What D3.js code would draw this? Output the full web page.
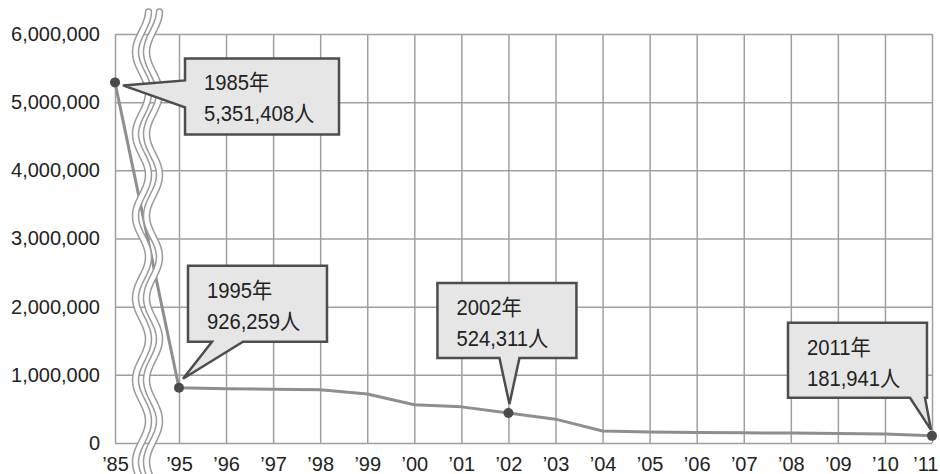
<!DOCTYPE html>
<html>
<head>
<meta charset="utf-8">
<script src="https://cdn.jsdelivr.net/npm/d3@7"></script>
<style>
  body { margin: 0; background: #fff; }
  svg { display: block; font-family: "Liberation Sans", Arial, "Noto Sans CJK JP", sans-serif; }
</style>
</head>
<body>
<script>
// data
var years = [1985, 1995, 1996, 1997, 1998, 1999, 2000, 2001, 2002, 2003, 2004, 2005, 2006, 2007, 2008, 2009, 2010, 2011];
var people = [5290000, 810000, 795000, 790000, 780000, 720000, 560000, 530000, 440000, 350000, 176000, 160000, 155000, 150000, 145000, 138000, 132000, 105000];
var yTicks = [0, 1000000, 2000000, 3000000, 4000000, 5000000, 6000000];
var noteYears = [1985, 1995, 2002, 2011];
var noteCounts = [5351408, 926259, 524311, 181941];

var width = 940, height = 474;
var plotLeft = 115, plotRight = 932, plotTop = 34, plotBottom = 443;

var svg = d3.select("body").append("svg")
    .attr("width", width)
    .attr("height", height);

// broken axis: 1985 sits before the wave, 1995.. spaced evenly
var x = d3.scaleLinear().domain([1985, 1995, 2011]).range([plotLeft, 179, plotRight]);
var y = d3.scaleLinear().domain([0, 6000000]).range([plotBottom, plotTop]);

var gridColor = "#9f9f9f";

var yAxis = svg.append("g")
    .attr("transform", "translate(" + plotLeft + ",0)")
    .call(d3.axisLeft(y).tickValues(yTicks).tickFormat(d3.format(","))
      .tickSize(-(plotRight - plotLeft)).tickPadding(15));
var xAxis = svg.append("g")
    .attr("transform", "translate(0," + plotBottom + ")")
    .call(d3.axisBottom(x).tickValues(years)
      .tickFormat(function(d) { return "\u2019" + String(d).slice(2); })
      .tickSize(-(plotBottom - plotTop)).tickPadding(14));

[yAxis, xAxis].forEach(function(g) {
  g.select(".domain").remove();
  g.selectAll(".tick line").attr("stroke", gridColor).attr("stroke-width", 1.5);
  g.selectAll(".tick text").attr("fill", "#222").style("font-size", "20px");
});
// last year label would run off the right edge
xAxis.selectAll(".tick text").filter(function(d) { return d === 2011; })
    .attr("text-anchor", "end").attr("x", 938 - plotRight);

// data line
var line = d3.line()
    .x(function(d, i) { return x(years[i]); })
    .y(function(d) { return y(d); });

svg.append("path")
    .datum(people)
    .attr("d", line)
    .attr("fill", "none")
    .attr("stroke", "#8e8e8e")
    .attr("stroke-width", 3)
    .attr("stroke-linejoin", "round");

// wavy break marks
var period = 82, amp = 6.5;
[142, 153].forEach(function(cx) {
  var pts = d3.range(12, 476, 2).map(function(yy) {
    return [cx + amp * Math.cos(2 * Math.PI * (yy - 93) / period), yy];
  });
  var wave = d3.line().curve(d3.curveBasis)(pts);
  svg.append("path").attr("d", wave).attr("fill", "none")
    .attr("stroke", "#9a9a9a").attr("stroke-width", 7.5).attr("stroke-linecap", "round");
  svg.append("path").attr("d", wave).attr("fill", "none")
    .attr("stroke", "#fff").attr("stroke-width", 4.5).attr("stroke-linecap", "round");
});

// callout layout: box offset from point, pointer side and base, tip offset
var calloutLayout = {
  1985: { dx: 70, dy: -24, w: 154, h: 76, side: "left", b0: 22, b1: 49, tx: 8, ty: 3 },
  1995: { dx: 9, dy: -122, w: 139, h: 76, side: "bottom", b0: 24, b1: 55, tx: 4, ty: -9 },
  2002: { dx: -71, dy: -130, w: 139, h: 75, side: "bottom", b0: 62, b1: 82, tx: 1, ty: -9 },
  2011: { dx: -144, dy: -113, w: 139, h: 75, side: "bottom", b0: 122, b1: 137, tx: -1, ty: -6 }
};

function calloutPath(bx, by, w, h, L, px, py) {
  var p = d3.path();
  p.moveTo(bx, by);
  p.lineTo(bx + w, by);
  p.lineTo(bx + w, by + h);
  if (L.side === "bottom") {
    p.lineTo(bx + L.b1, by + h);
    p.lineTo(px, py);
    p.lineTo(bx + L.b0, by + h);
  }
  p.lineTo(bx, by + h);
  if (L.side === "left") {
    p.lineTo(bx, by + L.b1);
    p.lineTo(px, py);
    p.lineTo(bx, by + L.b0);
  }
  p.closePath();
  return p.toString();
}

var notes = svg.append("g");
noteYears.forEach(function(yr, i) {
  var L = calloutLayout[yr];
  var idx = years.indexOf(yr);
  var px = x(yr), py = y(people[idx]);
  var bx = px + L.dx, by = py + L.dy;
  var g = notes.append("g");
  g.append("path")
    .attr("d", calloutPath(bx, by, L.w, L.h, L, px + L.tx, py + L.ty))
    .attr("fill", "#e6e6e6")
    .attr("stroke", "#4d4d4d")
    .attr("stroke-width", 2.5)
    .attr("stroke-linejoin", "miter");
  // the printed font is a narrow grotesque, so squeeze it a little
  g.append("text")
    .attr("transform", "translate(" + (bx + 19) + "," + (by + 32) + ") scale(0.92,1)")
    .attr("fill", "#222").style("font-size", "22px")
    .text(yr + "年");
  g.append("text")
    .attr("transform", "translate(" + (bx + 19) + "," + (by + 63) + ") scale(0.92,1)")
    .attr("fill", "#222").style("font-size", "22px")
    .text(d3.format(",")(noteCounts[i]) + "人");
});

// dots at the annotated years
svg.append("g").selectAll("circle")
    .data(noteYears)
    .join("circle")
    .attr("cx", function(d) { return x(d); })
    .attr("cy", function(d) { return y(people[years.indexOf(d)]); })
    .attr("r", 5)
    .attr("fill", "#4a4a4a");
</script>
</body>
</html>
